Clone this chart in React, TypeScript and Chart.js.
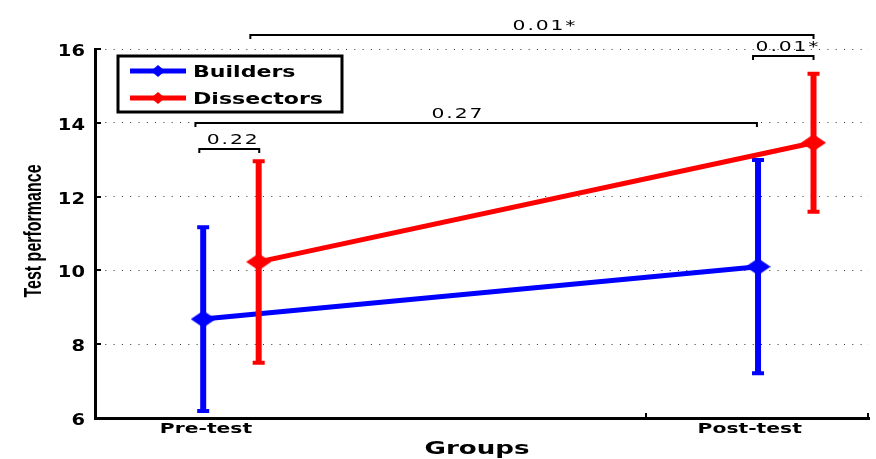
import React, { useEffect, useRef } from 'react';
import { Chart, registerables } from 'chart.js';

Chart.register(...registerables);

const groups = ['Pre-test', 'Post-test'];
const groupLabelX = [1.005, 1.985];
const seriesNames = ['Builders', 'Dissectors'];
const seriesColors = ['#0000ff', '#ff0000'];
const builderX = [1, 2];
const builderMean = [8.68, 10.1];
const builderErr = [2.49, 2.89];
const dissectorX = [1.1, 2.1];
const dissectorMean = [10.23, 13.46];
const dissectorErr = [2.73, 1.87];
const yTickValues = [6, 8, 10, 12, 14, 16];
const xTickMarks = [1.8, 2.2];
const bracketStart = [1.085, 0.986, 0.993, 1.991];
const bracketEnd = [2.1, 1.998, 1.101, 2.1];
const bracketLevel = [16.37, 14.0, 13.28, 15.8];
const bracketText = ['0.01*', '0.27', '0.22', '0.01*'];
const bracketTextX = [1.616, 1.459, 1.054, 2.054];

const seriesX = [builderX, dissectorX];
const seriesMean = [builderMean, dissectorMean];
const seriesErr = [builderErr, dissectorErr];

function txt(
  ctx: CanvasRenderingContext2D,
  s: string,
  x: number,
  y: number,
  font: string,
  align: CanvasTextAlign,
  sx: number,
  ls = 0
) {
  ctx.save();
  ctx.translate(x, y);
  ctx.scale(sx, 1);
  ctx.font = font;
  (ctx as any).letterSpacing = ls + 'px';
  ctx.textAlign = align;
  ctx.textBaseline = 'alphabetic';
  ctx.fillStyle = '#000';
  ctx.fillText(s, 0, 0);
  ctx.restore();
}

function diamond(ctx: CanvasRenderingContext2D, x: number, y: number, w: number, h: number, color: string) {
  ctx.save();
  ctx.fillStyle = color;
  ctx.beginPath();
  ctx.moveTo(x - w / 2, y);
  ctx.lineTo(x, y - h / 2);
  ctx.lineTo(x + w / 2, y);
  ctx.lineTo(x, y + h / 2);
  ctx.closePath();
  ctx.fill();
  ctx.restore();
}

function makeMarker(color: string) {
  const c = document.createElement('canvas');
  c.width = 25;
  c.height = 17;
  const g = c.getContext('2d')!;
  diamond(g, 12.5, 8.5, 25, 17, color);
  return c;
}

const decor = {
  id: 'decor',
  beforeDatasetDraw(chart: any, args: any) {
    const i = args.index;
    const ctx: CanvasRenderingContext2D = chart.ctx;
    const xs = chart.scales.x;
    const ys = chart.scales.y;
    const X = seriesX[i];
    const M = seriesMean[i];
    const E = seriesErr[i];
    ctx.save();
    ctx.strokeStyle = seriesColors[i];
    ctx.lineCap = 'butt';
    for (let k = 0; k < X.length; k++) {
      const px = xs.getPixelForValue(X[k]);
      const top = ys.getPixelForValue(M[k] + E[k]);
      const bot = ys.getPixelForValue(M[k] - E[k]);
      ctx.lineWidth = 6;
      ctx.beginPath();
      ctx.moveTo(px, top);
      ctx.lineTo(px, bot);
      ctx.stroke();
      ctx.lineWidth = 4;
      ctx.beginPath();
      ctx.moveTo(px - 6, top);
      ctx.lineTo(px + 6, top);
      ctx.moveTo(px - 6, bot);
      ctx.lineTo(px + 6, bot);
      ctx.stroke();
    }
    ctx.restore();
  },
  afterDraw(chart: any) {
    const ctx: CanvasRenderingContext2D = chart.ctx;
    const xs = chart.scales.x;
    const ys = chart.scales.y;
    const area = chart.chartArea;

    // inner tick marks
    ctx.save();
    ctx.strokeStyle = '#000';
    ctx.lineWidth = 2;
    yTickValues.forEach((v) => {
      const py = Math.round(ys.getPixelForValue(v));
      ctx.beginPath();
      ctx.moveTo(area.left, py);
      ctx.lineTo(area.left + 6, py);
      ctx.stroke();
    });
    xTickMarks.forEach((v) => {
      const px = Math.round(xs.getPixelForValue(v)) - 1;
      ctx.beginPath();
      ctx.moveTo(px, area.bottom);
      ctx.lineTo(px, area.bottom - 5);
      ctx.stroke();
    });
    ctx.restore();

    // tick labels
    yTickValues.forEach((v) => {
      txt(ctx, String(v), area.left - 10, ys.getPixelForValue(v) + 7, 'bold 15px "DejaVu Sans"', 'right', 1.3);
    });
    groups.forEach((g, i) => {
      txt(ctx, g, xs.getPixelForValue(groupLabelX[i]), area.bottom + 15, 'bold 14px "DejaVu Sans"', 'center', 1.45);
    });
    txt(ctx, 'Groups', 477, 454, 'bold 18px "DejaVu Sans"', 'center', 1.45);

    // y title
    ctx.save();
    ctx.translate(34, 231);
    ctx.scale(1.5, 1);
    ctx.rotate(-Math.PI / 2);
    ctx.font = 'bold 16px "Liberation Sans"';
    ctx.textAlign = 'center';
    ctx.textBaseline = 'middle';
    ctx.fillStyle = '#000';
    ctx.fillText('Test performance', 0, 0);
    ctx.restore();

    // significance brackets
    ctx.save();
    ctx.strokeStyle = '#000';
    ctx.lineWidth = 2;
    for (let b = 0; b < bracketText.length; b++) {
      const x1 = xs.getPixelForValue(bracketStart[b]);
      const x2 = xs.getPixelForValue(bracketEnd[b]);
      const y = Math.round(ys.getPixelForValue(bracketLevel[b]));
      ctx.beginPath();
      ctx.moveTo(x1, y + 4);
      ctx.lineTo(x1, y);
      ctx.lineTo(x2, y);
      ctx.lineTo(x2, y + 4);
      ctx.stroke();
      txt(ctx, bracketText[b], xs.getPixelForValue(bracketTextX[b]), y - 5, '14px "DejaVu Sans"', 'center', 1.45, 1.3);
    }
    ctx.restore();

    // legend
    ctx.save();
    ctx.fillStyle = '#fff';
    ctx.fillRect(118, 56, 224, 56);
    ctx.strokeStyle = '#000';
    ctx.lineWidth = 3;
    ctx.strokeRect(118, 56, 224, 56);
    const rows = [71, 98];
    seriesNames.forEach((name, i) => {
      const y = rows[i];
      ctx.strokeStyle = seriesColors[i];
      ctx.lineWidth = 5;
      ctx.beginPath();
      ctx.moveTo(130, y);
      ctx.lineTo(186, y);
      ctx.stroke();
      diamond(ctx, 158, y, 14, 12, seriesColors[i]);
      txt(ctx, name, 193, y + 6, 'bold 16px "DejaVu Sans"', 'left', 1.38);
    });
    ctx.restore();
  },
};

export default function App() {
  const ref = useRef<HTMLCanvasElement>(null);
  useEffect(() => {
    if (!ref.current) return;
    const chart = new Chart(ref.current, {
      type: 'line',
      data: {
        datasets: seriesNames.map((name, i) => ({
          label: name,
          data: seriesX[i].map((x, k) => ({ x, y: seriesMean[i][k] })),
          borderColor: seriesColors[i],
          backgroundColor: seriesColors[i],
          borderWidth: 5,
          pointStyle: makeMarker(seriesColors[i]) as any,
          pointRadius: 10,
          order: 1 - i,
          tension: 0,
          clip: false as any,
        })),
      },
      options: {
        animation: false,
        responsive: false,
        layout: { autoPadding: false, padding: { top: 49, right: 7, left: 0, bottom: 0 } },
        plugins: { legend: { display: false }, tooltip: { enabled: false } },
        scales: {
          x: {
            type: 'linear',
            min: 0.805,
            max: 2.2,
            grid: { display: false, drawTicks: false },
            border: { display: true, color: '#000', width: 3 },
            ticks: { display: false },
            afterFit: (s: any) => {
              s.height = 41;
            },
          },
          y: {
            type: 'linear',
            min: 6,
            max: 16,
            afterBuildTicks: (s: any) => {
              s.ticks = yTickValues.map((v) => ({ value: v }));
            },
            grid: { color: '#333', lineWidth: 1, drawTicks: false },
            border: { display: true, color: '#000', width: 3, dash: [1, 7.3] },
            ticks: { display: false },
            afterFit: (s: any) => {
              s.width = 95;
            },
          },
        },
      },
      plugins: [decor],
    });
    return () => chart.destroy();
  }, []);
  return (
    <div style={{ position: 'fixed', left: 0, top: 0, width: 876, height: 459, background: '#fff' }}>
      <canvas ref={ref} width={876} height={459} style={{ display: 'block' }} />
    </div>
  );
}
